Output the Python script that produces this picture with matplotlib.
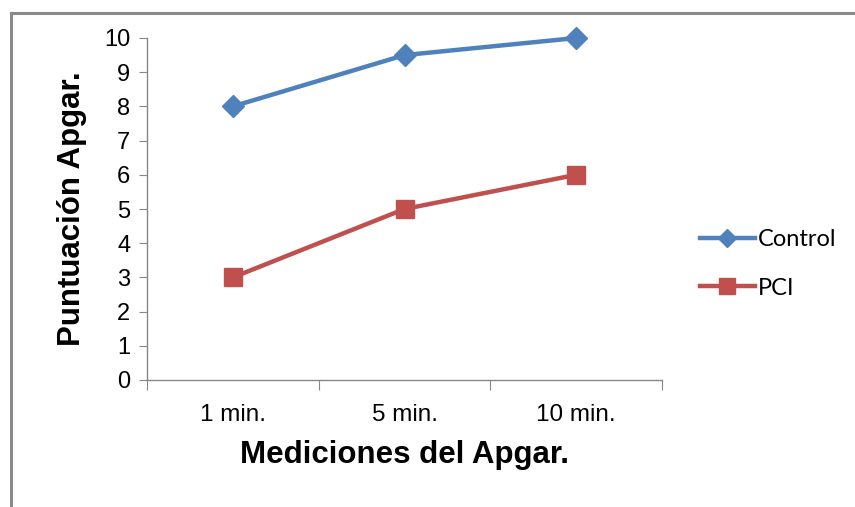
import matplotlib
matplotlib.use("Agg")
import matplotlib.pyplot as plt
from matplotlib.lines import Line2D

categories = ["1 min.", "5 min.", "10 min."]
control = [8, 9.5, 10]
pci = [3, 5, 6]
yticks = list(range(0, 11))

blue = "#4F81BD"
red = "#C0504D"
axis_gray = "#868686"

plt.rcParams["font.family"] = ["Liberation Sans", "DejaVu Sans"]

fig = plt.figure(figsize=(8.55, 5.07), dpi=100)
W, H = 855, 507

# outer chart frame (left and top edges)
fig.add_artist(Line2D([11 / W, 11 / W], [0, 1 - 13 / H], transform=fig.transFigure,
                      color="#8a8a8a", lw=2.2))
fig.add_artist(Line2D([11 / W, 1], [1 - 13 / H, 1 - 13 / H], transform=fig.transFigure,
                      color="#8a8a8a", lw=2.2))

ax = fig.add_axes([147 / W, 1 - 380 / H, (662 - 147) / W, (380 - 38) / H])
x = list(range(len(categories)))
ax.plot(x, control, color=blue, lw=3.2, marker="D", markersize=11,
        markerfacecolor=blue, markeredgecolor=blue, label="Control", clip_on=False)
ax.plot(x, pci, color=red, lw=3.2, marker="s", markersize=13.5,
        markerfacecolor=red, markeredgecolor=red, label="PCI", clip_on=False)

ax.set_xlim(-0.5, len(categories) - 0.5)
ax.set_ylim(0, 10)
ax.set_yticks(yticks)
ax.set_yticklabels([str(v) for v in yticks], fontsize=17)
ax.set_xticks([i - 0.5 for i in range(len(categories) + 1)])
ax.set_xticklabels([])
ax.set_xticks(x, minor=True)
ax.set_xticklabels(categories, minor=True, fontsize=17.5)
ax.tick_params(axis="x", which="minor", length=0, pad=17)
ax.tick_params(axis="x", which="major", length=7, color=axis_gray, direction="out")
ax.tick_params(axis="y", length=6, color=axis_gray, direction="out", pad=6)

for s in ["top", "right"]:
    ax.spines[s].set_visible(False)
for s in ["left", "bottom"]:
    ax.spines[s].set_color(axis_gray)
    ax.spines[s].set_linewidth(1.0)

ax.set_ylabel("Puntuación Apgar.", fontsize=22.5, fontweight="bold", labelpad=12)
ax.set_xlabel("Mediciones del Apgar.", fontsize=22.5, fontweight="bold", labelpad=10)

ax.legend(loc="center left", bbox_to_anchor=(679 / W, 1 - 264 / H),
          bbox_transform=fig.transFigure, frameon=False,
          prop={"family": ["Lato", "DejaVu Sans"], "size": 17},
          handlelength=2.3, handletextpad=0.15, labelspacing=1.15, markerscale=0.85)

fig.savefig("out.png", dpi=100)
